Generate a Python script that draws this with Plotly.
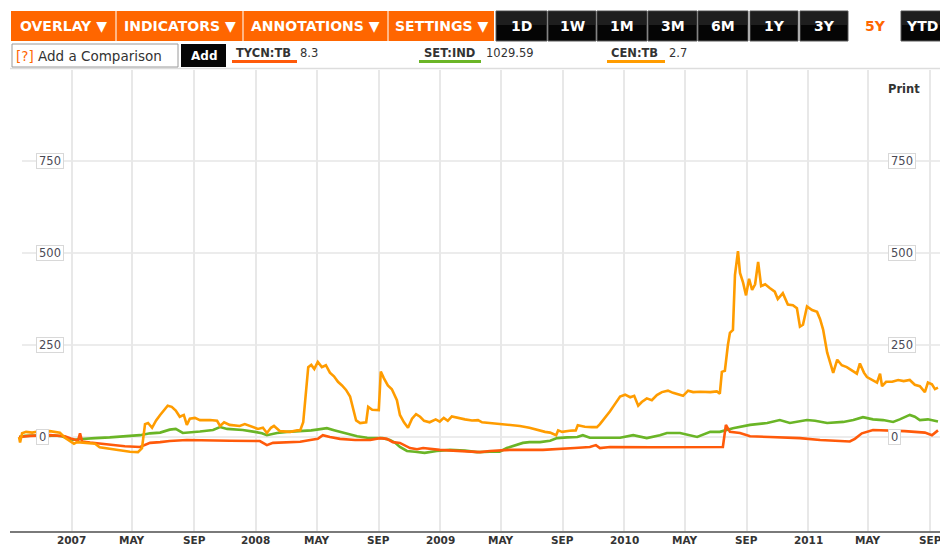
import plotly.graph_objects as go

# ---------------- data (percent change since start of 5Y window) ----------------
cen_dates = ["2006-09-18", "2006-09-20", "2006-09-24", "2006-10-02", "2006-10-14", "2006-10-26",
             "2006-11-18", "2006-12-08", "2006-12-18", "2006-12-28", "2007-01-05", "2007-01-11",
             "2007-01-27", "2007-02-16", "2007-02-25", "2007-03-17", "2007-04-06", "2007-04-26",
             "2007-05-12", "2007-05-20", "2007-05-26", "2007-06-01", "2007-06-09", "2007-06-17",
             "2007-06-25", "2007-07-03", "2007-07-10", "2007-07-18", "2007-07-26", "2007-08-03",
             "2007-08-11", "2007-08-17", "2007-08-23", "2007-09-02", "2007-09-12", "2007-10-02",
             "2007-10-16", "2007-10-22", "2007-10-30", "2007-11-10", "2007-11-30", "2007-12-10",
             "2007-12-24", "2008-01-05", "2008-01-15", "2008-01-23", "2008-01-31", "2008-02-06",
             "2008-02-18", "2008-03-09", "2008-03-23", "2008-03-29", "2008-04-04", "2008-04-10",
             "2008-04-14", "2008-04-20", "2008-04-26", "2008-05-03", "2008-05-11", "2008-05-19",
             "2008-05-27", "2008-06-04", "2008-06-12", "2008-06-20", "2008-06-28", "2008-07-06",
             "2008-07-14", "2008-07-18", "2008-07-26", "2008-08-07", "2008-08-11", "2008-08-19",
             "2008-09-01", "2008-09-05", "2008-09-11", "2008-09-19", "2008-09-27", "2008-10-07",
             "2008-10-13", "2008-10-21", "2008-10-29", "2008-11-06", "2008-11-14", "2008-11-22",
             "2008-11-30", "2008-12-11", "2008-12-23", "2008-12-31", "2009-01-08", "2009-01-16",
             "2009-01-24", "2009-02-05", "2009-02-19", "2009-03-05", "2009-03-17", "2009-03-25",
             "2009-04-10", "2009-04-29", "2009-05-19", "2009-06-08", "2009-06-27", "2009-07-14",
             "2009-07-28", "2009-08-07", "2009-08-19", "2009-08-23", "2009-08-31", "2009-09-15",
             "2009-09-27", "2009-10-01", "2009-10-15", "2009-10-29", "2009-11-08", "2009-11-14",
             "2009-11-20", "2009-11-28", "2009-12-04", "2009-12-14", "2009-12-24", "2010-01-03",
             "2010-01-13", "2010-01-21", "2010-01-29", "2010-02-05", "2010-02-15", "2010-02-25",
             "2010-03-07", "2010-03-17", "2010-03-29", "2010-04-08", "2010-04-16", "2010-04-28",
             "2010-05-08", "2010-05-18", "2010-06-01", "2010-06-21", "2010-07-04", "2010-07-10",
             "2010-07-14", "2010-07-20", "2010-07-26", "2010-07-30", "2010-08-05", "2010-08-09",
             "2010-08-15", "2010-08-19", "2010-08-25", "2010-08-31", "2010-09-06", "2010-09-12",
             "2010-09-18", "2010-09-24", "2010-09-30", "2010-10-08", "2010-10-17", "2010-10-27",
             "2010-11-02", "2010-11-12", "2010-11-22", "2010-12-02", "2010-12-10", "2010-12-16",
             "2010-12-22", "2010-12-30", "2011-01-09", "2011-01-19", "2011-01-25", "2011-01-31",
             "2011-02-08", "2011-02-14", "2011-02-20", "2011-02-28", "2011-03-09", "2011-03-19",
             "2011-03-29", "2011-04-08", "2011-04-14", "2011-04-22", "2011-04-28", "2011-05-08",
             "2011-05-18", "2011-05-24", "2011-05-28", "2011-06-05", "2011-06-17", "2011-06-29",
             "2011-07-10", "2011-07-22", "2011-08-01", "2011-08-11", "2011-08-21", "2011-08-27",
             "2011-09-04", "2011-09-10", "2011-09-16"]
cen_vals = [0, -15, 10, 14, 12, 15,
            16, 12, -2, -10, -18, -14,
            -15, -18, -28, -32, -36, -40,
            -41, -30, 35, 38, 25, 45,
            60, 75, 85, 82, 72, 55,
            60, 33, 50, 52, 46, 46,
            44, 30, 40, 33, 30, 35,
            27, 22, 25, 11, 25, 30,
            16, 14, 18, 18, 40, 120,
            190, 196, 185, 204, 190, 195,
            175, 165, 150, 140, 128, 110,
            70, 45, 38, 40, 82, 74,
            73, 178, 160, 140, 130, 100,
            60, 40, 25, 50, 62, 55,
            44, 40, 48, 42, 52, 44,
            56, 52, 48, 45, 46, 40,
            38, 35, 33, 30, 25, 18,
            14, 12, 5, 18, 14, 17,
            18, 32, 28, 27, 27, 35,
            45, 60, 70, 90, 110, 115,
            108, 112, 85, 95, 105, 100,
            114, 122, 126, 120, 116, 112,
            126, 122, 123, 122, 124, 118,
            177, 180, 250, 283, 291, 440,
            505, 446, 420, 385, 430, 400,
            415, 476, 410, 415, 405, 395,
            375, 391, 360, 358, 350, 300,
            305, 355, 345, 340, 320, 292,
            230, 200, 174, 210, 195, 190,
            180, 172, 200, 175, 163, 155,
            148, 172, 138, 150, 150, 155,
            152, 155, 142, 138, 122, 148,
            143, 130, 134]

set_dates = ["2006-09-18", "2006-09-30", "2006-10-20", "2006-11-08", "2006-11-28", "2006-12-12",
             "2006-12-24", "2007-01-03", "2007-01-13", "2007-01-27", "2007-02-16", "2007-03-17",
             "2007-04-16", "2007-05-16", "2007-06-05", "2007-06-25", "2007-07-14", "2007-07-26",
             "2007-08-09", "2007-08-23", "2007-09-12", "2007-10-08", "2007-10-22", "2007-11-05",
             "2007-12-06", "2007-12-30", "2008-01-13", "2008-01-23", "2008-02-12", "2008-03-03",
             "2008-03-23", "2008-04-20", "2008-05-01", "2008-05-21", "2008-06-06", "2008-06-26",
             "2008-07-20", "2008-08-09", "2008-09-09", "2008-09-23", "2008-10-03", "2008-10-13",
             "2008-10-27", "2008-11-12", "2008-12-01", "2008-12-25", "2009-01-20", "2009-02-19",
             "2009-03-15", "2009-04-10", "2009-04-29", "2009-05-13", "2009-05-29", "2009-06-14",
             "2009-06-27", "2009-07-18", "2009-08-07", "2009-08-21", "2009-09-10", "2009-09-30",
             "2009-10-11", "2009-10-25", "2009-11-14", "2009-12-04", "2009-12-24", "2010-01-19",
             "2010-02-15", "2010-03-13", "2010-03-27", "2010-04-22", "2010-05-12", "2010-05-26",
             "2010-06-21", "2010-07-10", "2010-08-05", "2010-08-19", "2010-09-08", "2010-10-12",
             "2010-11-06", "2010-11-26", "2010-12-30", "2011-01-15", "2011-02-08", "2011-03-12",
             "2011-04-01", "2011-04-20", "2011-05-10", "2011-05-30", "2011-06-19", "2011-07-02",
             "2011-07-22", "2011-08-01", "2011-08-11", "2011-08-27", "2011-09-16"]
set_vals = [0, 3, 4, 2, 4, 2,
            -4, -8, -6, -4, -3, -1,
            2, 5, 10, 12, 20, 22,
            11, 12, 15, 19, 27, 22,
            19, 14, 10, 5, 11, 14,
            15, 18, 20, 24, 18, 10,
            2, -2, -3, -8, -15, -27,
            -38, -40, -43, -38, -35, -37,
            -41, -40, -40, -30, -22, -16,
            -14, -14, -10, -3, -1, 0,
            5, -2, -2, -3, -2, 5,
            -3, 5, 11, 11, 5, 0,
            14, 14, 24, 27, 33, 38,
            46, 38, 46, 44, 38, 41,
            46, 54, 48, 46, 41, 48,
            60, 55, 46, 48, 42]

tycn_dates = ["2006-09-18", "2006-10-10", "2006-11-18", "2006-12-18", "2007-01-01", "2007-01-13",
              "2007-01-17", "2007-01-21", "2007-02-06", "2007-02-25", "2007-03-17", "2007-04-16",
              "2007-05-16", "2007-06-05", "2007-06-25", "2007-07-14", "2007-08-17", "2007-10-02",
              "2007-11-10", "2008-01-09", "2008-01-23", "2008-02-04", "2008-03-09", "2008-03-29",
              "2008-04-18", "2008-05-03", "2008-05-13", "2008-05-27", "2008-06-16", "2008-07-16",
              "2008-08-15", "2008-09-03", "2008-09-17", "2008-09-29", "2008-10-13", "2008-11-02",
              "2008-11-16", "2008-11-28", "2008-12-31", "2009-02-09", "2009-03-21", "2009-04-10",
              "2009-05-19", "2009-07-24", "2009-08-26", "2009-09-25", "2009-10-25", "2009-11-06",
              "2009-11-14", "2009-12-04", "2010-02-25", "2010-05-12", "2010-07-16", "2010-07-22",
              "2010-07-30", "2010-08-19", "2010-09-08", "2010-10-17", "2010-12-16", "2011-01-25",
              "2011-03-25", "2011-04-04", "2011-04-18", "2011-05-10", "2011-06-13", "2011-07-12",
              "2011-08-21", "2011-09-04", "2011-09-16"]
tycn_vals = [0, 3, 5, 2, -5, -10,
             10, -12, -15, -18, -22, -25,
             -27, -16, -14, -11, -8, -8,
             -10, -11, -22, -16, -14, -13,
             -8, -5, 5, 0, -5, -8,
             -8, -3, -5, -14, -16, -30,
             -33, -30, -35, -38, -41, -38,
             -35, -35, -33, -30, -27, -22,
             -30, -27, -28, -28, -27, 33,
             14, 11, 2, 0, -3, -8,
             -12, -5, 10, 19, 18, 16,
             12, 5, 18]

tick_dates = ["2007-01-01", "2007-05-01", "2007-09-01", "2008-01-01", "2008-05-01", "2008-09-01",
              "2009-01-01", "2009-05-01", "2009-09-01", "2010-01-01", "2010-05-01", "2010-09-01",
              "2011-01-01", "2011-05-01", "2011-09-01"]
tick_labels = ["2007", "MAY", "SEP", "2008", "MAY", "SEP", "2009", "MAY", "SEP",
               "2010", "MAY", "SEP", "2011", "MAY", "SEP"]
y_ticks = [0, 250, 500, 750]

legend_names = ["TYCN:TB", "SET:IND", "CEN:TB"]
legend_values = ["8.3", "1029.59", "2.7"]
menu_labels = ["OVERLAY \u25BC", "INDICATORS \u25BC", "ANNOTATIONS \u25BC", "SETTINGS \u25BC"]
range_labels = ["1D", "1W", "1M", "3M", "6M", "1Y", "3Y"]

# ---------------- styling / layout helpers ----------------
C_TYCN = "#ff5a0a"
C_SET = "#6ab526"
C_CEN = "#ff9c00"
C_BAR = "#ff6600"
FONT = "DejaVu Sans"

W, H = 940, 546
ML, MR, MT, MB = 10, 0, 70, 15
PW = W - ML - MR
PH = H - MT - MB


def px(x):
    return (x - ML) / PW


def py(y):
    return (H - MB - y) / PH


fig = go.Figure()
fig.add_trace(go.Scatter(x=set_dates, y=set_vals, mode="lines",
                         line=dict(color=C_SET, width=2.6), hoverinfo="skip"))
fig.add_trace(go.Scatter(x=tycn_dates, y=tycn_vals, mode="lines",
                         line=dict(color=C_TYCN, width=2.6), hoverinfo="skip"))
fig.add_trace(go.Scatter(x=cen_dates, y=cen_vals, mode="lines",
                         line=dict(color=C_CEN, width=2.6), hoverinfo="skip"))

shapes = []
annos = []

# x-axis labels placed on the date axis (so the clipped last label still shows)
for d, t in zip(tick_dates, tick_labels):
    annos.append(dict(xref="x", yref="paper", x=d, y=py(539.5), xanchor="center", yanchor="middle",
                      text="<b>" + t + "</b>", showarrow=False,
                      font=dict(family=FONT, size=10.5, color="#333333")))

# horizontal grid lines and boxed value labels
for v in y_ticks:
    shapes.append(dict(type="line", xref="paper", yref="y", x0=px(22), x1=1, y0=v, y1=v,
                       line=dict(color="#e6e6e6", width=1.5), layer="below"))
    for xl in (36, 888):
        annos.append(dict(xref="paper", yref="y", x=px(xl), y=v, xanchor="left", yanchor="middle",
                          text=str(v), showarrow=False, bgcolor="white", bordercolor="#d8d8d8",
                          borderwidth=1, borderpad=2, height=10,
                          font=dict(family=FONT, size=11.5, color="#4a4a55")))

# separator under legend row
shapes.append(dict(type="line", xref="paper", yref="paper", x0=px(10), x1=px(940), y0=py(68.5), y1=py(68.5),
                   line=dict(color="#dddddd", width=1.5)))

# toolbar: orange menu
shapes.append(dict(type="rect", xref="paper", yref="paper", x0=px(11), x1=px(494), y0=py(41), y1=py(11),
                   fillcolor=C_BAR, line=dict(width=0)))
menu_edges = [11, 116, 243, 388, 494]
for i, lab in enumerate(menu_labels):
    a, b = menu_edges[i], menu_edges[i + 1]
    if i > 0:
        shapes.append(dict(type="line", xref="paper", yref="paper", x0=px(a), x1=px(a), y0=py(41), y1=py(11),
                           line=dict(color="#ffd2b0", width=1.5)))
    annos.append(dict(xref="paper", yref="paper", x=px((a + b) / 2), y=py(26.5), text="<b>" + lab + "</b>",
                      showarrow=False, xanchor="center", yanchor="middle",
                      font=dict(family=FONT, size=14, color="white")))

# toolbar: black range buttons
range_edges = [(496, 547), (548, 596), (597, 647), (648, 697), (698, 748), (750, 798), (800, 848)]
for lab, (a, b) in zip(range_labels + ["YTD"], range_edges + [(901, 942)]):
    shapes.append(dict(type="rect", xref="paper", yref="paper", x0=px(a), x1=px(b), y0=py(41), y1=py(11),
                       fillcolor="#050505", line=dict(color="#5a5a5a", width=1)))
    shapes.append(dict(type="rect", xref="paper", yref="paper", x0=px(a + 1), x1=px(b - 1), y0=py(25), y1=py(12),
                       fillcolor="rgba(255,255,255,0.10)", line=dict(width=0)))
    annos.append(dict(xref="paper", yref="paper", x=px((a + b) / 2), y=py(26.5), text="<b>" + lab + "</b>",
                      showarrow=False, xanchor="center", yanchor="middle",
                      font=dict(family=FONT, size=14, color="white")))
annos.append(dict(xref="paper", yref="paper", x=px(875), y=py(26.5), text="<b>5Y</b>",
                  showarrow=False, xanchor="center", yanchor="middle",
                  font=dict(family=FONT, size=14, color=C_BAR)))

# comparison input and Add button
shapes.append(dict(type="rect", xref="paper", yref="paper", x0=px(12), x1=px(178), y0=py(67), y1=py(44),
                   fillcolor="white", line=dict(color="#9a9a9a", width=1)))
annos.append(dict(xref="paper", yref="paper", x=px(14), y=py(56), xanchor="left", yanchor="middle",
                  text="[?]", showarrow=False, font=dict(family=FONT, size=13.5, color=C_BAR)))
annos.append(dict(xref="paper", yref="paper", x=px(36), y=py(56), xanchor="left", yanchor="middle",
                  text="Add a Comparison", showarrow=False, font=dict(family=FONT, size=13.5, color="#333333")))
shapes.append(dict(type="rect", xref="paper", yref="paper", x0=px(181), x1=px(226), y0=py(67), y1=py(44),
                   fillcolor="#050505", line=dict(width=0)))
annos.append(dict(xref="paper", yref="paper", x=px(203.5), y=py(56), xanchor="center", yanchor="middle",
                  text="<b>Add</b>", showarrow=False, font=dict(family=FONT, size=12, color="white")))

# legend entries
leg_pos = [(235, 299, 232, 297, C_TYCN), (423, 485, 419, 481, C_SET), (610, 668, 607, 665, C_CEN)]
for name, val, (xn, xv, u0, u1, col) in zip(legend_names, legend_values, leg_pos):
    annos.append(dict(xref="paper", yref="paper", x=px(xn - 1), y=py(53), xanchor="left", yanchor="middle",
                      text="<b>" + name + "</b>", showarrow=False,
                      font=dict(family=FONT, size=11.5, color="#333333")))
    annos.append(dict(xref="paper", yref="paper", x=px(xv - 1), y=py(53), xanchor="left", yanchor="middle",
                      text=val, showarrow=False, font=dict(family=FONT, size=11.5, color="#333333")))
    shapes.append(dict(type="rect", xref="paper", yref="paper", x0=px(u0), x1=px(u1), y0=py(63), y1=py(60),
                       fillcolor=col, line=dict(width=0)))

annos.append(dict(xref="paper", yref="paper", x=px(904), y=py(89), xanchor="center", yanchor="middle",
                  text="<b>Print</b>", showarrow=False, font=dict(family=FONT, size=11.5, color="#333333")))

fig.update_layout(
    width=W, height=H,
    margin=dict(l=ML, r=MR, t=MT, b=MB),
    paper_bgcolor="white", plot_bgcolor="white",
    showlegend=False,
    shapes=shapes, annotations=annos,
    xaxis=dict(type="date", range=["2006-08-31", "2011-09-20"],
               tickmode="array", tickvals=tick_dates, showticklabels=False,
               showgrid=True, gridcolor="#e8e8e8", gridwidth=2,
               showline=True, linecolor="#7a7a7a", linewidth=2, ticks="", zeroline=False,
               fixedrange=True),
    yaxis=dict(range=[-255.4, 997.3], showticklabels=False, showgrid=False, zeroline=False,
               showline=False, ticks="", fixedrange=True),
)

fig.write_html("out.html", config={"displayModeBar": False},
               post_script="document.body.style.margin='0';document.body.style.overflow='hidden';")
